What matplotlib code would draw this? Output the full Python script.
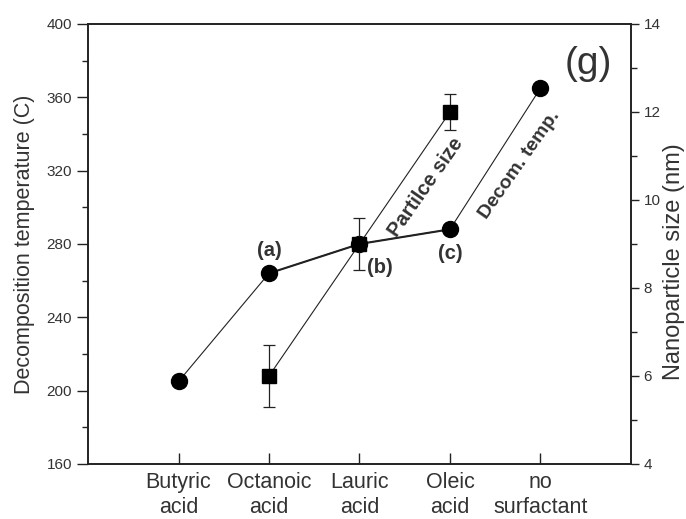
import numpy as np
import matplotlib.pyplot as plt

plt.rcParams['font.family'] = ['Liberation Sans', 'DejaVu Sans']

categories = ["Butyric\nacid", "Octanoic\nacid", "Lauric\nacid", "Oleic\nacid", "no\nsurfactant"]
x_pos = [1, 2, 3, 4, 5]

# decomposition temperature (C), left axis
temp = [205, 264, 280, 288, 365]

# particle size (nm), right axis
size_x = [2, 3, 4]
size = [6.0, 9.0, 12.0]
size_err = [0.7, 0.6, 0.4]

ink = "#222222"
txt = "#333333"

fig = plt.figure(figsize=(6.86, 5.19), dpi=100)
ax = fig.add_axes([0.1283, 0.106, 0.7915, 0.8478])
ax2 = ax.twinx()

# temperature line: thin outer segments, heavier middle segments
ax.plot(x_pos, temp, color=ink, lw=0.8, zorder=2)
ax.plot(x_pos[1:4], temp[1:4], color=ink, lw=1.5, zorder=2)
ax.plot(x_pos, temp, "o", color="black", ms=11.5, zorder=3)

ax2.errorbar(size_x, size, yerr=size_err, color=ink, lw=0.8, marker="s",
             ms=10, mfc="black", mec="black", capsize=4, elinewidth=0.9,
             capthick=0.9, zorder=4)

ax.set_xlim(0, 6)
ax.set_ylim(160, 400)
ax2.set_ylim(4, 14)
ax.set_xticks(x_pos)
ax.set_xticklabels(categories, fontsize=15.5, color=txt, linespacing=1.2)
ax.set_yticks(np.arange(160, 401, 40))
ax.set_yticks(np.arange(180, 400, 40), minor=True)
ax2.set_yticks(np.arange(4, 15, 2))
ax2.set_yticks(np.arange(5, 14, 2), minor=True)

ax.tick_params(axis="x", direction="in", length=8, width=1, colors=ink, labelcolor=txt, pad=6)
ax.tick_params(axis="y", which="major", direction="out", length=8, width=1, colors=ink,
               labelcolor=txt, labelsize=11)
ax.tick_params(axis="y", which="minor", direction="out", length=4, width=1, colors=ink)
ax2.tick_params(axis="y", which="major", direction="out", length=6, width=1, colors=ink,
                labelcolor=txt, labelsize=11, pad=3)
ax2.tick_params(axis="y", which="minor", direction="out", length=4, width=1, colors=ink)

for a in (ax, ax2):
    for s in a.spines.values():
        s.set_color(ink)
        s.set_linewidth(1.2)

ax.set_ylabel("Decomposition temperature (C)", fontsize=15.5, color=txt, labelpad=8)
ax2.set_ylabel("Nanoparticle size (nm)", fontsize=17, color=txt, labelpad=2)
ax2.yaxis.label.set_y(0.46)

ax.text(2.0, 276.7, "(a)", fontsize=14.5, fontweight="bold", color=txt, ha="center", va="center")
ax.text(3.22, 267, "(b)", fontsize=14.5, fontweight="bold", color=txt, ha="center", va="center")
ax.text(4.0, 275, "(c)", fontsize=14.5, fontweight="bold", color=txt, ha="center", va="center")
ax.text(3.73, 311, "Partilce size", fontsize=14.5, fontweight="bold", color=txt,
        ha="center", va="center", rotation=55)
ax.text(4.77, 323, "Decom. temp.", fontsize=14, fontweight="bold", color=txt,
        ha="center", va="center", rotation=55)
ax.text(5.53, 378, "(g)", fontsize=28, color=txt, ha="center", va="center")

fig.savefig("out.png", dpi=100)
